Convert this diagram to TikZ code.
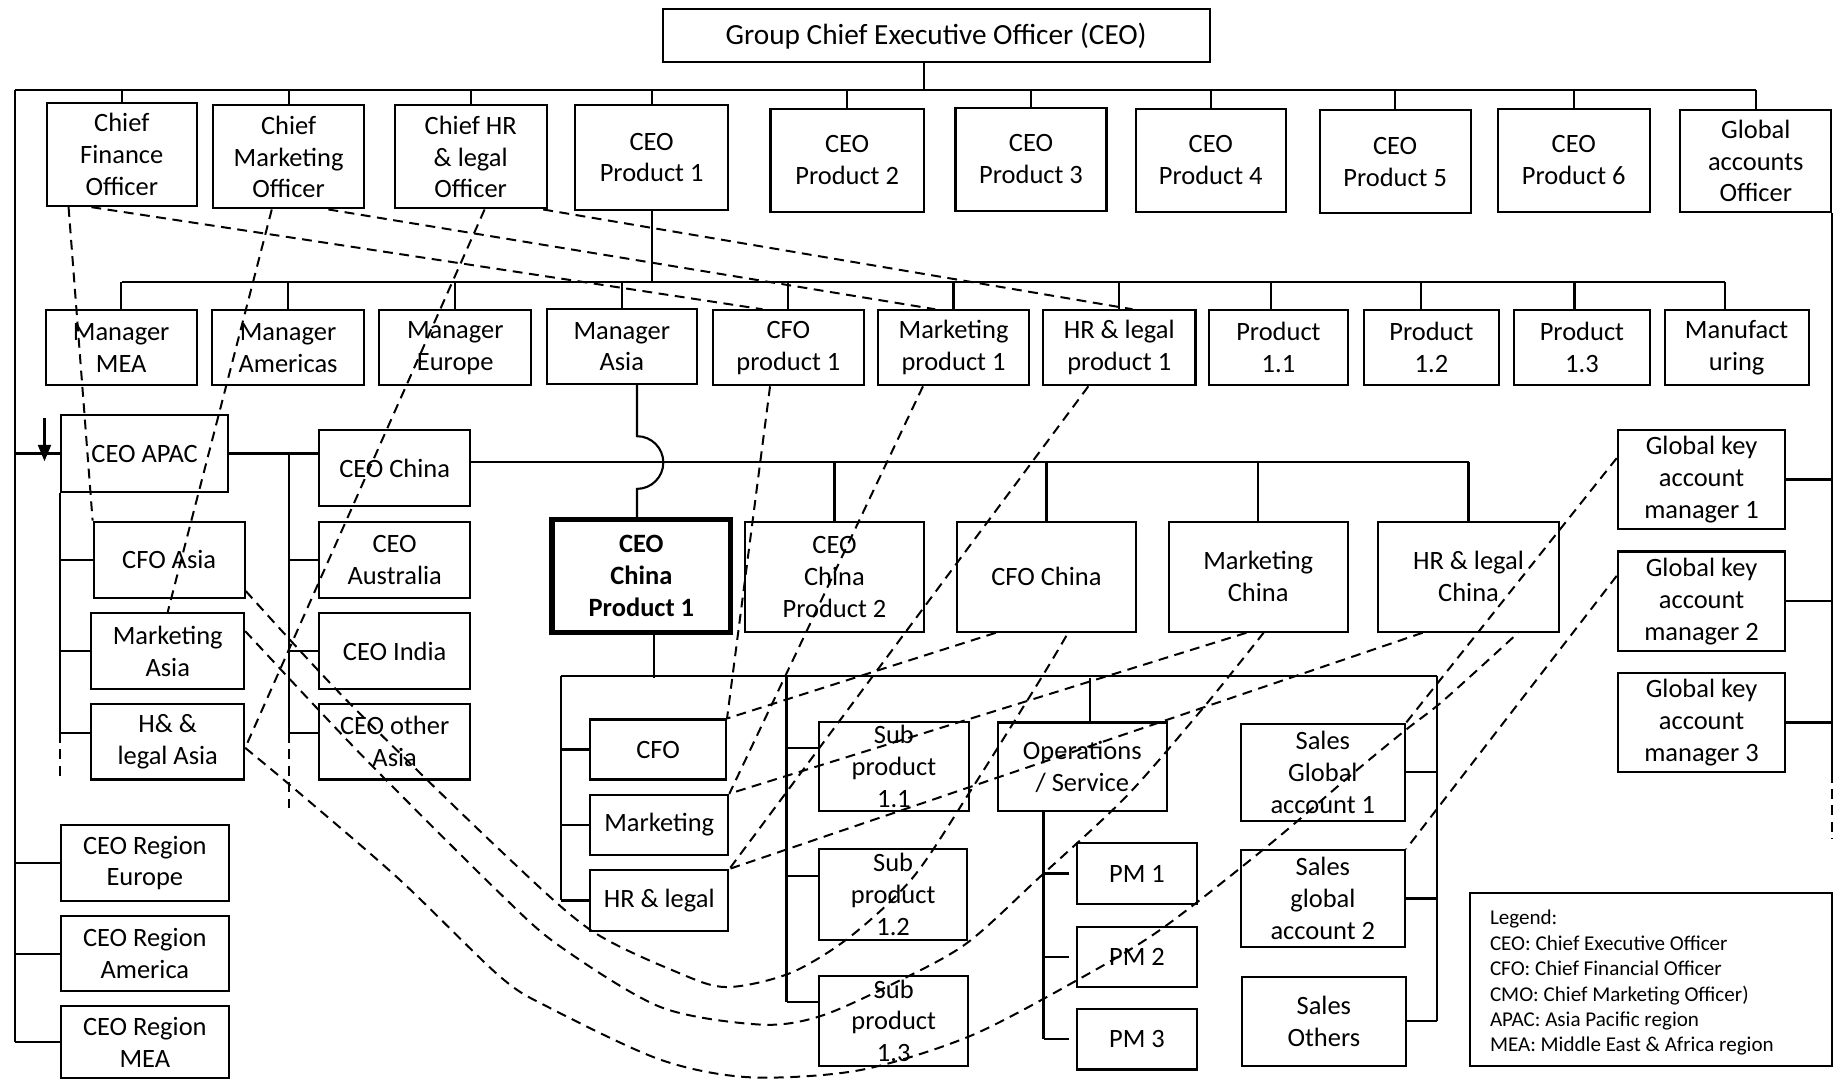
\documentclass[tikz,border=0pt]{standalone}
\usepackage{fontspec}
\setmainfont{Carlito}
\usetikzlibrary{fit,calc,arrows.meta}

\newcommand\boxfont{\fontsize{11.3pt}{13.6pt}\selectfont}
\newcommand\titlefont{\fontsize{12.5pt}{15pt}\selectfont}
\newcommand\legendfont{\fontsize{9pt}{10.85pt}\selectfont}

\begin{document}
\begin{tikzpicture}[x=0.5pt, y=-0.5pt, line width=0.9pt,
  unit/.style={draw, line width=0.9pt, inner sep=0pt},
  keyunit/.style={unit, line width=2.3pt},
  boxtext/.style={inner sep=0pt, align=center, font=\boxfont},
  txt/.style={label={[boxtext]center:#1}},
  boldtxt/.style={label={[boxtext, font=\boxfont\bfseries]center:#1}},
  titletxt/.style={label={[boxtext, font=\titlefont]center:#1}},
  dotlink/.style={line width=0.85pt, dash pattern=on 4.2pt off 2.8pt},
  tip/.style={-{Triangle[length=7pt,width=5.5pt]}}]

\fill[white] (0,0) rectangle (1568,923);
\useasboundingbox (0,0) rectangle (1568,923);

% ---------- group level ----------
\node[unit, fit={(566,8) (1033,53)}, titletxt={Group Chief Executive Officer (CEO)}] (gceo) {};

\node[unit, fit={(40,88) (168,176)}, txt={Chief\\Finance\\Officer}] (cfoff) {};
\node[unit, fit={(182,90) (311,178)}, txt={Chief\\Marketing\\Officer}] (cmo) {};
\node[unit, fit={(337,90) (467,178)}, txt={Chief HR\\\& legal\\Officer}] (chr) {};
\node[unit, fit={(491,90) (622,179)}, txt={CEO\\Product 1}] (ceop1) {};
\node[unit, fit={(658,93) (789,181)}, txt={CEO\\Product 2}] (ceop2) {};
\node[unit, fit={(816,92) (945,180)}, txt={CEO\\Product 3}] (ceop3) {};
\node[unit, fit={(970,93) (1098,181)}, txt={CEO\\Product 4}] (ceop4) {};
\node[unit, fit={(1127,94) (1256,182)}, txt={CEO\\Product 5}] (ceop5) {};
\node[unit, fit={(1279,93) (1409,181)}, txt={CEO\\Product 6}] (ceop6) {};
\node[unit, fit={(1435,94) (1564,181)}, txt={Global\\accounts\\Officer}] (gao) {};

% ---------- product 1 level ----------
\node[unit, fit={(39,265) (168,329)}, txt={Manager\\MEA}] (mmea) {};
\node[unit, fit={(181,265) (311,329)}, txt={Manager\\Americas}] (mam) {};
\node[unit, fit={(324,265) (453.6,329)}, txt={Manager\\Europe}] (meu) {};
\node[unit, fit={(467,264) (595,328)}, txt={Manager\\Asia}] (masia) {};
\node[unit, fit={(609,265) (737.6,329)}, txt={CFO\\product 1}] (cfop1) {};
\node[unit, fit={(750,265) (878.7,329)}, txt={Marketing\\product 1}] (mkp1) {};
\node[unit, fit={(890.8,265) (1021,329)}, txt={HR \& legal\\product 1}] (hrp1) {};
\node[unit, fit={(1032.6,265) (1151,329)}, txt={Product\\1.1}] (p11) {};
\node[unit, fit={(1165,265) (1280,329)}, txt={Product\\1.2}] (p12) {};
\node[unit, fit={(1293,265) (1409,329)}, txt={Product\\1.3}] (p13) {};
\node[unit, fit={(1421.7,265) (1544.6,329)}, txt={Manufact\\uring}] (manu) {};

% ---------- regions ----------
\node[unit, fit={(52,354.6) (195,420)}, txt={CEO APAC}] (apac) {};
\node[unit, fit={(80,445.5) (209,510.5)}, txt={CFO Asia}] (cfoasia) {};
\node[unit, fit={(78,523.5) (208.5,588.5)}, txt={Marketing\\Asia}] (mkasia) {};
\node[unit, fit={(78,601) (208.5,665.7)}, txt={H\& \&\\legal Asia}] (hrasia) {};
\node[unit, fit={(272.6,367.4) (401.5,431.8)}, txt={CEO China}] (ceochina) {};
\node[unit, fit={(272.6,445.5) (401.5,510.5)}, txt={CEO\\Australia}] (ceoaus) {};
\node[unit, fit={(272.6,523.5) (401.5,588.5)}, txt={CEO India}] (ceoindia) {};
\node[unit, fit={(272.6,601) (401.5,665.7)}, txt={CEO other\\Asia}] (ceooth) {};
\node[unit, fit={(52.2,704.7) (195.2,769.3)}, txt={CEO Region\\Europe}] (regeu) {};
\node[unit, fit={(52.2,782.2) (195.2,846.5)}, txt={CEO Region\\America}] (regam) {};
\node[unit, fit={(52.2,859.5) (195.2,921)}, txt={CEO Region\\MEA}] (regmea) {};

% ---------- China ----------
\node[keyunit, fit={(471.5,443.7) (624,540)}, boldtxt={CEO\\China\\Product 1}] (ceocp1) {};
\node[unit, fit={(636.3,445.5) (789,539.5)}, txt={CEO\\China\\Product 2}] (ceocp2) {};
\node[unit, fit={(817.4,445.5) (970,539.5)}, txt={CFO China}] (cfochina) {};
\node[unit, fit={(998,445.5) (1151,539.5)}, txt={Marketing\\China}] (mkchina) {};
\node[unit, fit={(1176.6,445.5) (1331.7,539.5)}, txt={HR \& legal\\China}] (hrchina) {};

\node[unit, fit={(504,614.5) (620,665.7)}, txt={CFO}] (cfo1) {};
\node[unit, fit={(504,678.7) (622,730)}, txt={Marketing}] (mk1) {};
\node[unit, fit={(504,743) (622,795)}, txt={HR \& legal}] (hr1) {};
\node[unit, fit={(699.5,616.3) (827.3,692.5)}, txt={Sub\\product\\1.1}] (sp11) {};
\node[unit, fit={(699.5,725) (826,802.7)}, txt={Sub\\product\\1.2}] (sp12) {};
\node[unit, fit={(699.5,833.5) (827,910)}, txt={Sub\\product\\1.3}] (sp13) {};
\node[unit, fit={(852,617) (996.6,692.6)}, txt={Operations\\/ Service}] (ops) {};
\node[unit, fit={(920,720) (1022,772)}, txt={PM 1}] (pm1) {};
\node[unit, fit={(920,791.6) (1022,843)}, txt={PM 2}] (pm2) {};
\node[unit, fit={(920,861.4) (1022,913.4)}, txt={PM 3}] (pm3) {};
\node[unit, fit={(1059.5,618) (1200,701)}, txt={Sales\\Global\\account 1}] (sga1) {};
\node[unit, fit={(1059.5,725.9) (1200,808.7)}, txt={Sales\\global\\account 2}] (sga2) {};
\node[unit, fit={(1060.5,834.4) (1200.7,910)}, txt={Sales\\Others}] (sothers) {};

% ---------- global key accounts ----------
\node[unit, fit={(1381.6,367) (1524.7,452)}, txt={Global key\\account\\manager 1}] (gkam1) {};
\node[unit, fit={(1381.6,471) (1524.7,556)}, txt={Global key\\account\\manager 2}] (gkam2) {};
\node[unit, fit={(1381.6,575) (1524.7,659)}, txt={Global key\\account\\manager 3}] (gkam3) {};

% ---------- legend ----------
\node[unit, fit={(1255.5,762.3) (1564.6,910)}] (legend) {};
\node[anchor=north west, inner sep=0pt, align=left, font=\legendfont] (legendtext)
  at ($(legend.north west)+(17,15)$)
  {Legend:\\CEO: Chief Executive Officer\\CFO: Chief Financial Officer\\CMO: Chief Marketing Officer)\\APAC: Asia Pacific region\\MEA: Middle East \& Africa region};

% ---------- solid reporting lines ----------
\coordinate (topbus) at (13,77);
\coordinate (midbus) at (104,241);
\coordinate (gstem) at ($(gceo.south west)!0.4775!(gceo.south east)$);
\draw (gstem) -- (gstem |- topbus);
\draw (topbus) -- (topbus -| gao.north);
\foreach \n in {cfoff,cmo,chr,ceop1,ceop2,ceop3,ceop4,ceop5,ceop6,gao}
  \draw (\n.north) -- (\n.north |- topbus);

% left spine with the regional CEOs
\draw (topbus) -- (topbus |- regmea.west);
\foreach \n in {regeu,regam,regmea}
  \draw (\n.west -| topbus) -- (\n.west);
\draw (apac.west -| topbus) -- (apac.west);
\coordinate (arrtail) at (38,357);
\draw[tip] (arrtail) -- ++(0,37);

% APAC column
\coordinate (hrasiat) at ($(hrasia.north west)!0.39!(hrasia.south west)$);
\draw (apac.south west) -- (hrasiat -| apac.west);
\draw[dotlink] (hrasiat -| apac.west) -- ++(0,39);
\foreach \n in {cfoasia,mkasia}
  \draw (\n.west -| apac.west) -- (\n.west);
\draw (hrasiat -| apac.west) -- (hrasiat);

% country CEOs
\coordinate (asiabus) at (247,389);
\draw (apac.east) -- (apac.east -| ceochina.west);
\coordinate (ceootht) at ($(ceooth.north west)!0.39!(ceooth.south west)$);
\draw (apac.east -| asiabus) -- (ceootht -| asiabus);
\draw[dotlink] (ceootht -| asiabus) -- ++(0,65);
\foreach \n in {ceoaus,ceoindia}
  \draw (\n.west -| asiabus) -- (\n.west);
\draw (ceootht -| asiabus) -- (ceootht);

% product 1 organisation
\draw (ceop1.south) -- (ceop1.south |- midbus);
\coordinate (manut) at ($(manu.north west)!0.423!(manu.north east)$);
\draw (midbus) -- (manut |- midbus);
\foreach \n in {mmea,mam,meu,masia,cfop1,mkp1,hrp1}
  \draw (\n.north) -- (\n.north |- midbus);
\foreach \n/\f in {p11/0.45,p12/0.426,p13/0.446,manu/0.423}{
  \coordinate (\n-t) at ($(\n.north west)!\f!(\n.north east)$);
  \draw (\n-t) -- (\n-t |- midbus);
}

% China bus, Manager Asia line jumping over it
\coordinate (cbus) at ($(ceochina.north east)!0.4224!(ceochina.south east)$);
\draw (cbus) -- (cbus -| hrchina.north);
\foreach \n in {ceocp2,cfochina,mkchina,hrchina}
  \draw (\n.north) -- (\n.north |- cbus);
\coordinate (mastem) at ($(masia.south west)!0.6!(masia.south east)$);
\draw (mastem) -- ++(0,43.6) arc[start angle=90, end angle=-90, radius=11.25pt]
  -- (mastem |- ceocp1.north);

% CEO China Product 1 organisation
\coordinate (p1stem) at ($(ceocp1.south west)!0.567!(ceocp1.south east)$);
\coordinate (p1bus) at ($(p1stem)+(0,37)$);
\coordinate (p1left) at (479,577);
\coordinate (p1right) at (1227,577);
\coordinate (subx) at (671.7,577);
\draw (p1stem) -- (p1bus);
\draw (p1left) -- (p1right);
\draw (p1left) -- (p1left |- hr1.west);
\foreach \n in {cfo1,mk1,hr1}
  \draw (\n.west -| p1left) -- (\n.west);
\coordinate (sp13t) at ($(sp13.north west)!0.3!(sp13.south west)$);
\draw (subx) -- (subx |- sp13t);
\foreach \n in {sp11,sp12,sp13}{
  \coordinate (\n-w) at ($(\n.north west)!0.3!(\n.south west)$);
  \draw (\n-w -| subx) -- (\n-w);
}
\coordinate (opstop) at ($(ops.north west)!0.545!(ops.north east)$);
\draw (opstop) -- (opstop |- p1bus);
\coordinate (opsdown) at ($(ops.south west)!0.274!(ops.south east)$);
\draw (opsdown) -- (opsdown |- pm3.west);
\foreach \n in {pm1,pm2,pm3}
  \draw[shorten >=3pt] (\n.west -| opsdown) -- (\n.west);
\draw (p1right) -- (p1right |- sothers.east);
\foreach \n in {sga1,sga2,sothers}
  \draw (\n.east) -- (\n.east -| p1right);

% global accounts officer
\draw (gao.south east) -- (gao.south east |- gkam3.south);
\draw[dotlink] (gao.south east |- gkam3.south) -- ++(0,57);
\foreach \n in {gkam1,gkam2,gkam3}
  \draw (\n.east) -- (\n.east -| gao.south east);

% ---------- dotted (functional) reporting lines ----------
\draw[dotlink] ($(cfoff.south west)!0.15!(cfoff.south east)$) -- (cfoasia.north west);
\draw[dotlink] ($(cfoff.south west)!0.30!(cfoff.south east)$) -- ($(cfop1.north west)!0.33!(cfop1.north east)$);
\draw[dotlink] ($(cmo.south west)!0.39!(cmo.south east)$) -- (mkasia.north);
\draw[dotlink] ($(cmo.south west)!0.76!(cmo.south east)$) -- ($(mkp1.north west)!0.38!(mkp1.north east)$);
\draw[dotlink] ($(chr.south west)!0.59!(chr.south east)$) -- ($(hrasia.north east)!0.58!(hrasia.south east)$);
\draw[dotlink] ($(chr.south west)!0.97!(chr.south east)$) -- ($(hrp1.north west)!0.585!(hrp1.north east)$);

\draw[dotlink] ($(cfop1.south west)!0.38!(cfop1.south east)$) -- (cfo1.north east);
\draw[dotlink] ($(mkp1.south west)!0.30!(mkp1.south east)$) -- (mk1.north east);
\draw[dotlink] ($(hrp1.south west)!0.30!(hrp1.south east)$) -- (hr1.north east);
\draw[dotlink] ($(cfochina.south west)!0.22!(cfochina.south east)$) -- (cfo1.north east);
\draw[dotlink] ($(mkchina.south west)!0.435!(mkchina.south east)$) -- (mk1.north east);
\draw[dotlink] ($(hrchina.south west)!0.25!(hrchina.south east)$) -- (hr1.north east);

\draw[dotlink] ($(gkam1.north west)!0.29!(gkam1.south west)$) -- (sga1.north east);
\draw[dotlink] ($(gkam2.north west)!0.25!(gkam2.south west)$) -- (sga2.north east);

% Asia functions to China functions
\coordinate (aA0) at ($(cfoasia.north east)!0.9!(cfoasia.south east)$);
\coordinate (aA1) at ($(cfochina.south west)!0.62!(cfochina.south east)$);
\coordinate (aB0) at ($(mkasia.north east)!0.245!(mkasia.south east)$);
\coordinate (aB1) at ($(mkchina.south west)!0.53!(mkchina.south east)$);
\coordinate (aC0) at ($(hrasia.north east)!0.58!(hrasia.south east)$);
\coordinate (aC1) at ($(hrchina.south west)!0.77!(hrchina.south east)$);

\draw[dotlink] plot[smooth] coordinates {(aA0) (296,598) (427,726) (504,794)
  (580,831) (621,843) (675,831) (726,800) (780,749) (831,672) (888,581) (aA1)};
\draw[dotlink] plot[smooth] coordinates {(aB0) (307,643) (427,763) (478,808)
  (564,860) (649,875) (700,868) (763,840) (825,806) (888,749) (962,680) (1028,604) (aB1)};
\draw[dotlink] plot[smooth] coordinates {(aC0) (256,677.5) (341.6,751.5) (427,834)
  (470,861) (564,905) (640,920) (734,914) (828,885) (920,837) (991,794)
  (1082,723) (1156,660) (1201,623) (1233,598) (aC1)};

\end{tikzpicture}
\end{document}
